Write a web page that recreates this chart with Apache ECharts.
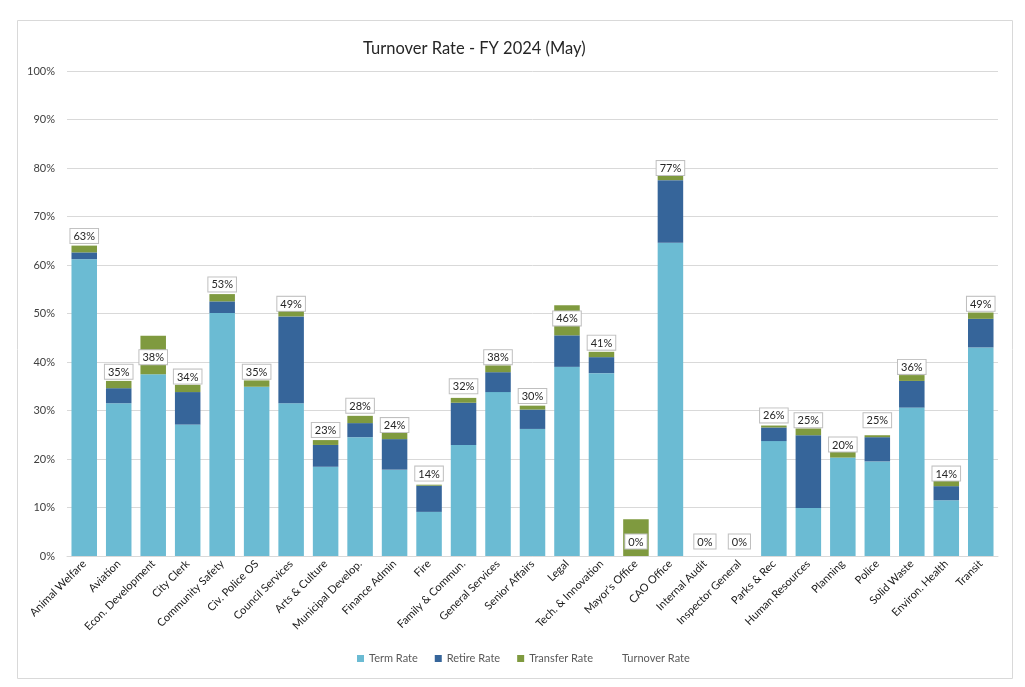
<!DOCTYPE html>
<html>
<head>
<meta charset="utf-8">
<script src="https://cdn.jsdelivr.net/npm/echarts@6/dist/echarts.min.js"></script>
<style>html,body{margin:0;padding:0;background:#fff;}#c{width:1025px;height:687px;}</style>
</head>
<body>
<div id="c"></div>
<script>
const categories = ["Animal Welfare","Aviation","Econ. Development","City Clerk","Community Safety","Civ. Police OS","Council Services","Arts & Culture","Municipal Develop.","Finance Admin","Fire","Family & Commun.","General Services","Senior Affairs","Legal","Tech. & Innovation","Mayor's Office","CAO Office","Internal Audit","Inspector General","Parks & Rec","Human Resources","Planning","Police","Solid Waste","Environ. Health","Transit"];
const termRate =     [61.2,31.5,37.5,27.1,50.1,34.9,31.5,18.4,24.5,17.8,9.1,22.9,33.8,26.2,39.0,37.7,0,64.6,0,0,23.7,9.9,20.3,19.5,30.6,11.5,43.0];
const retireRate =   [1.4,3.1,0,6.7,2.4,0,17.9,4.5,2.9,6.3,5.4,8.7,4.1,4.0,6.5,3.3,0,12.9,0,0,2.8,15.0,0,5.0,5.5,2.9,5.9];
const transferRate = [1.4,1.5,7.9,1.5,1.5,1.3,1.5,1.0,1.5,1.5,0.2,1.0,1.4,0.8,6.2,1.1,7.6,1.5,0,0,0.4,1.4,1.3,0.4,1.2,1.4,1.3];
const turnoverRate = [63,35,38,34,53,35,49,23,28,24,14,32,38,30,46,41,0,77,0,0,26,25,20,25,36,14,49];
const yTicks = [0,10,20,30,40,50,60,70,80,90,100];

const FONT = 'Lato, "Open Sans", sans-serif';
const chart = echarts.init(document.getElementById('c'), null, {renderer:'canvas'});
const barBase = {type:'bar', stack:'rate', barCategoryGap:'26%'};
chart.setOption({
  animation:false,
  textStyle:{fontFamily:FONT},
  graphic:[{type:'rect', shape:{x:17.5,y:20.5,width:995,height:658}, style:{fill:'none', stroke:'#d9d9d9', lineWidth:1}, silent:true, z:-1}],
  title:{text:'Turnover Rate - FY 2024 (May)', left:358, top:35, textStyle:{fontFamily:FONT, fontSize:16.5, fontWeight:'normal', color:'#262626'}},
  legend:{bottom:18, left:352, itemWidth:7, itemHeight:7, itemGap:17,
    textStyle:{fontFamily:FONT, fontSize:11, color:'#595959'},
    data:[{name:'Term Rate', icon:'rect'},{name:'Retire Rate', icon:'rect'},{name:'Transfer Rate', icon:'rect'},{name:'Turnover Rate', icon:'rect', itemStyle:{color:'rgba(0,0,0,0)'}}]},
  grid:{left:67, right:27, top:71, bottom:131, containLabel:false},
  xAxis:{type:'category', data:categories,
    axisLine:{lineStyle:{color:'#d9d9d9'}}, axisTick:{show:false},
    axisLabel:{rotate:45, interval:0, fontSize:11, color:'#1a1a1a', fontFamily:FONT, margin:6}},
  yAxis:{type:'value', min:0, max:100, interval:10,
    axisLabel:{formatter:v=>yTicks.includes(v)?v+'%':'', fontSize:11, color:'#404040', fontFamily:FONT, margin:12},
    splitLine:{lineStyle:{color:'#d9d9d9'}}, axisLine:{show:false}, axisTick:{show:false}},
  series:[
    Object.assign({}, barBase, {name:'Term Rate', data:termRate, itemStyle:{color:'#6BBBD3'}}),
    Object.assign({}, barBase, {name:'Retire Rate', data:retireRate, itemStyle:{color:'#36659A'}}),
    Object.assign({}, barBase, {name:'Transfer Rate', data:transferRate, itemStyle:{color:'#7F9A3F'}}),
    {name:'Turnover Rate', type:'line', data:turnoverRate, symbol:'circle', symbolSize:1,
      itemStyle:{color:'rgba(0,0,0,0)'}, lineStyle:{width:0, opacity:0}, z:10,
      label:{show:true, position:'top', distance:7, formatter:p=>p.value+'%',
        fontFamily:FONT, fontSize:11, color:'#262626', backgroundColor:'#fff',
        borderColor:'#bfbfbf', borderWidth:1, padding:[2,3,1,3]}}
  ]
});
</script>
</body>
</html>
